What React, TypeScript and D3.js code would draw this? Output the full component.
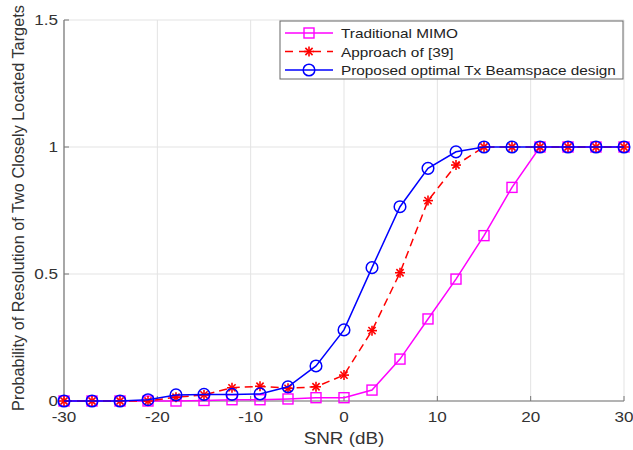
import React from "react";
import * as d3 from "d3";

const snr = [-30, -27, -24, -21, -18, -15, -12, -9, -6, -3, 0, 3, 6, 9, 12, 15, 18, 21, 24, 27, 30];
const traditional = [0, 0, 0, 0, 0, 0.002, 0.005, 0.005, 0.008, 0.013, 0.013, 0.043, 0.165, 0.323, 0.48, 0.651, 0.841, 1, 1, 1, 1];
const approach39 = [0, 0, 0, 0, 0.015, 0.024, 0.052, 0.058, 0.05, 0.056, 0.102, 0.277, 0.505, 0.789, 0.929, 1, 1, 1, 1, 1, 1];
const proposed = [0, 0, 0, 0.005, 0.024, 0.026, 0.026, 0.028, 0.056, 0.138, 0.28, 0.525, 0.765, 0.916, 0.981, 1, 1, 1, 1, 1, 1];
const xTicks = [-30, -20, -10, 0, 10, 20, 30];
const yTicks = [0, 0.5, 1, 1.5];
const legendLabels = ["Traditional MIMO", "Approach of [39]", "Proposed optimal Tx Beamspace design"];

const W = 633, H = 450;
const L = 64, R = 624, T = 20, B = 401;
const FONT = "'Liberation Sans', Arial, Helvetica, sans-serif";
const SX = 1.18;

const x = d3.scaleLinear().domain([-30, 30]).range([L, R]);
const y = d3.scaleLinear().domain([0, 1.5]).range([B, T]);

type Kind = "square" | "star" | "circle";

function Marker({ kind, cx, cy, color }: { kind: Kind; cx: number; cy: number; color: string }) {
  if (kind === "square") {
    return <rect x={cx - 5} y={cy - 5} width={10} height={10} fill="none" stroke={color} strokeWidth={1.4} />;
  }
  if (kind === "circle") {
    return <circle cx={cx} cy={cy} r={5.8} fill="none" stroke={color} strokeWidth={1.5} />;
  }
  const s = 5, d = 3.6;
  return (
    <g stroke={color} strokeWidth={1.6}>
      <line x1={cx - s} y1={cy} x2={cx + s} y2={cy} />
      <line x1={cx} y1={cy - s} x2={cx} y2={cy + s} />
      <line x1={cx - d} y1={cy - d} x2={cx + d} y2={cy + d} />
      <line x1={cx - d} y1={cy + d} x2={cx + d} y2={cy - d} />
    </g>
  );
}

function SText({ x: tx, y: ty, anchor, size, fill, children }: { x: number; y: number; anchor?: string; size: number; fill: string; children: React.ReactNode }) {
  return (
    <text transform={`translate(${tx},${ty}) scale(${SX},1)`} textAnchor={anchor || "start"} fontSize={size} fill={fill}>
      {children}
    </text>
  );
}

const series: { data: number[]; color: string; kind: Kind; dash?: string }[] = [
  { data: traditional, color: "#ff00ff", kind: "square" },
  { data: approach39, color: "#ff0000", kind: "star", dash: "8,5" },
  { data: proposed, color: "#0000ff", kind: "circle" },
];

export default function App() {
  const line = d3.line<number>().x((_, i) => x(snr[i])).y((v) => y(v));
  return (
    <svg width={W} height={H} style={{ position: "absolute", left: 0, top: 0, background: "#fff" }} fontFamily={FONT}>
      {xTicks.map((t) => (
        <line key={"gx" + t} x1={x(t)} x2={x(t)} y1={T} y2={B} stroke="#e3e3e3" strokeWidth={1} />
      ))}
      {yTicks.map((t) => (
        <line key={"gy" + t} x1={L} x2={R} y1={y(t)} y2={y(t)} stroke="#e3e3e3" strokeWidth={1} />
      ))}
      <line x1={L} x2={L} y1={T} y2={B} stroke="#777" strokeWidth={1.2} />
      <line x1={L} x2={R} y1={B} y2={B} stroke="#777" strokeWidth={1.2} />
      {xTicks.map((t) => (
        <g key={"tx" + t}>
          <line x1={x(t)} x2={x(t)} y1={B} y2={B - 5} stroke="#777" strokeWidth={1} />
          <SText x={x(t)} y={422} anchor="middle" size={14.5} fill="#333">{t}</SText>
        </g>
      ))}
      {yTicks.map((t) => (
        <g key={"ty" + t}>
          <line x1={L} x2={L + 5} y1={y(t)} y2={y(t)} stroke="#777" strokeWidth={1} />
          <SText x={L - 6} y={y(t) + 5} anchor="end" size={14.5} fill="#333">{t}</SText>
        </g>
      ))}
      <SText x={344} y={444} anchor="middle" size={16} fill="#333">SNR (dB)</SText>
      <text transform={`translate(24,208) rotate(-90)`} textAnchor="middle" fontSize={16.3} fill="#333">
        Probability of Resolution of Two Closely Located Targets
      </text>
      {series.map((s, si) => (
        <g key={"s" + si}>
          <path d={line(s.data) || ""} fill="none" stroke={s.color} strokeWidth={1.5} strokeDasharray={s.dash} />
          {s.data.map((v, i) => (
            <Marker key={i} kind={s.kind} cx={x(snr[i])} cy={y(v)} color={s.color} />
          ))}
        </g>
      ))}
      <rect x={280} y={21} width={343} height={58} fill="#fff" stroke="#666" strokeWidth={1} />
      {series.map((s, i) => {
        const ly = 33 + i * 18.5;
        return (
          <g key={"lg" + i}>
            <line x1={285} x2={333} y1={ly} y2={ly} stroke={s.color} strokeWidth={1.5} strokeDasharray={s.dash ? "8,6" : undefined} />
            <Marker kind={s.kind} cx={309} cy={ly} color={s.color} />
            <SText x={341} y={ly + 5} size={13} fill="#222">{legendLabels[i]}</SText>
          </g>
        );
      })}
    </svg>
  );
}
